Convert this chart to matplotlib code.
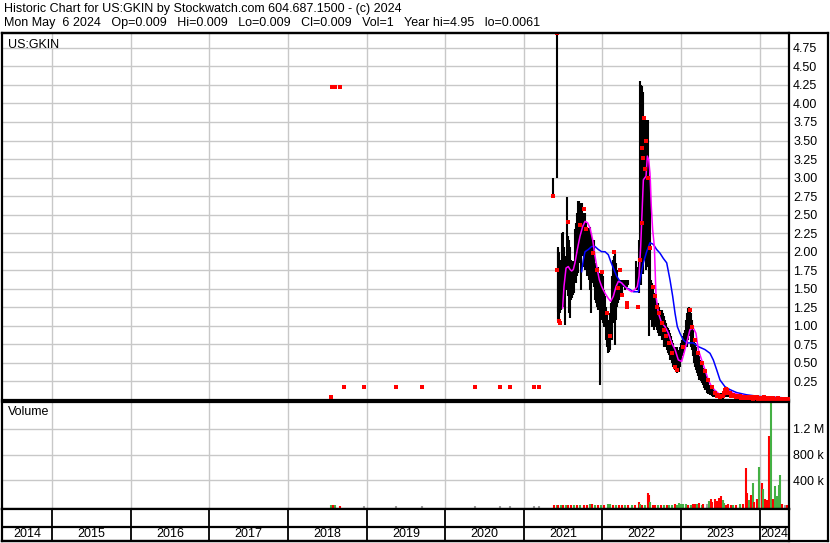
import matplotlib
matplotlib.use('Agg')
import matplotlib.pyplot as plt
from matplotlib.lines import Line2D

plt.rcParams['font.family'] = ['Liberation Sans', 'DejaVu Sans']

# ---- daily price bars (decimal year, high, low) ----
bar_t = [2021.375, 2021.424, 2021.430, 2021.438, 2021.451, 2021.464, 2021.476, 2021.489,
         2021.502, 2021.515, 2021.527, 2021.540, 2021.553, 2021.565, 2021.578, 2021.591,
         2021.604, 2021.616, 2021.629, 2021.642, 2021.655, 2021.667, 2021.680, 2021.693,
         2021.705, 2021.718, 2021.731, 2021.744, 2021.756, 2021.769, 2021.782, 2021.794,
         2021.807, 2021.820, 2021.833, 2021.845, 2021.858, 2021.871, 2021.884, 2021.896,
         2021.909, 2021.922, 2021.934, 2021.947, 2021.960, 2021.973, 2021.985, 2021.998,
         2022.011, 2022.024, 2022.036, 2022.049, 2022.062, 2022.074, 2022.087, 2022.100,
         2022.113, 2022.125, 2022.138, 2022.151, 2022.163, 2022.176, 2022.189, 2022.202,
         2022.214, 2022.227, 2022.240, 2022.253, 2022.265, 2022.291, 2022.308, 2022.329,
         2022.422, 2022.435, 2022.452, 2022.465, 2022.477, 2022.490, 2022.503, 2022.515,
         2022.528, 2022.541, 2022.554, 2022.566, 2022.579, 2022.592, 2022.604, 2022.617,
         2022.630, 2022.643, 2022.655, 2022.668, 2022.681, 2022.694, 2022.706, 2022.719,
         2022.732, 2022.744, 2022.757, 2022.770, 2022.783, 2022.795, 2022.808, 2022.821,
         2022.834, 2022.846, 2022.859, 2022.872, 2022.884, 2022.897, 2022.910, 2022.923,
         2022.935, 2022.948, 2022.961, 2022.973, 2022.986, 2022.999, 2023.012, 2023.024,
         2023.037, 2023.050, 2023.063, 2023.075, 2023.088, 2023.101, 2023.113, 2023.126,
         2023.139, 2023.151, 2023.164, 2023.177, 2023.189, 2023.202, 2023.215, 2023.228,
         2023.240, 2023.253, 2023.266, 2023.279, 2023.291, 2023.304, 2023.317, 2023.329,
         2023.346, 2023.368, 2023.389, 2023.410, 2023.431, 2023.452, 2023.478, 2023.503,
         2023.529, 2023.554, 2023.580, 2023.605, 2023.631, 2023.664, 2023.707, 2023.749,
         2023.813, 2023.876, 2023.940, 2024.004, 2024.089, 2024.173, 2024.258, 2024.343]
bar_hi = [3.00, 4.95, 2.07, 2.03, 2.00, 1.85, 1.89, 2.25,
          2.27, 2.07, 1.49, 1.94, 2.74, 2.21, 2.16, 2.07,
          1.89, 1.85, 1.87, 1.80, 2.30, 2.39, 2.52, 2.69,
          2.68, 2.66, 2.61, 2.66, 2.52, 2.43, 2.52, 2.39,
          2.34, 2.30, 2.32, 2.34, 2.25, 2.16, 2.07, 2.16,
          1.85, 1.80, 1.76, 1.80, 1.71, 1.71, 1.62, 1.76,
          1.67, 1.49, 1.40, 1.26, 1.17, 1.08, 0.99, 1.17,
          1.31, 1.67, 1.89, 1.94, 1.98, 1.85, 1.76, 1.62,
          1.58, 1.62, 1.62, 1.58, 1.62, 1.62, 1.62, 1.62,
          1.87, 1.80, 1.71, 2.16, 4.30, 4.25, 4.23, 4.16,
          3.78, 3.74, 3.78, 3.69, 3.78, 3.02, 2.97, 1.62,
          1.58, 1.53, 1.44, 1.40, 1.35, 1.26, 1.31, 1.26,
          1.22, 1.19, 1.22, 1.17, 1.13, 1.08, 1.04, 0.99,
          0.97, 0.95, 0.90, 0.86, 0.81, 0.77, 0.72, 0.72,
          0.68, 0.72, 0.68, 0.63, 0.72, 0.77, 0.81, 0.86,
          0.90, 0.95, 1.08, 1.17, 1.24, 1.26, 1.24, 1.17,
          1.08, 0.95, 0.81, 0.77, 0.72, 0.66, 0.61, 0.59,
          0.54, 0.52, 0.47, 0.43, 0.41, 0.36, 0.32, 0.30,
          0.25, 0.20, 0.18, 0.15, 0.13, 0.10, 0.09, 0.10,
          0.09, 0.13, 0.14, 0.13, 0.09, 0.08, 0.07, 0.07,
          0.065, 0.06, 0.056, 0.05, 0.047, 0.047, 0.043, 0.043]
bar_lo = [2.75, 3.00, 1.19, 1.06, 1.04, 1.17, 1.22, 1.31,
          1.26, 1.35, 1.01, 1.49, 1.49, 1.40, 1.17, 1.10,
          1.35, 1.37, 1.42, 1.44, 1.62, 1.58, 1.67, 1.71,
          1.89, 1.85, 1.49, 1.94, 1.98, 1.80, 1.76, 1.85,
          1.67, 1.71, 1.62, 1.49, 1.17, 1.58, 1.62, 1.53,
          1.35, 1.31, 1.26, 1.22, 1.31, 0.20, 1.08, 1.17,
          1.04, 0.99, 1.04, 0.81, 0.72, 0.63, 0.65, 0.68,
          0.86, 0.81, 1.04, 1.17, 0.74, 1.08, 1.26, 1.31,
          1.35, 1.44, 1.49, 1.44, 1.53, 1.49, 1.53, 1.55,
          1.49, 1.53, 1.49, 1.44, 1.98, 1.55, 2.00, 1.70,
          2.20, 1.90, 1.75, 2.10, 1.80, 0.86, 1.30, 1.08,
          0.99, 1.04, 0.95, 0.99, 1.08, 0.95, 0.90, 0.86,
          0.90, 0.86, 0.81, 0.86, 0.72, 0.81, 0.72, 0.68,
          0.63, 0.61, 0.54, 0.59, 0.50, 0.45, 0.47, 0.41,
          0.38, 0.36, 0.41, 0.38, 0.45, 0.52, 0.59, 0.63,
          0.68, 0.72, 0.77, 0.72, 0.81, 0.86, 0.86, 0.72,
          0.68, 0.59, 0.50, 0.45, 0.41, 0.36, 0.32, 0.27,
          0.27, 0.25, 0.23, 0.20, 0.16, 0.14, 0.13, 0.09,
          0.08, 0.07, 0.056, 0.047, 0.038, 0.029, 0.025, 0.025,
          0.02, 0.038, 0.047, 0.038, 0.029, 0.025, 0.02, 0.02,
          0.016, 0.016, 0.011, 0.011, 0.011, 0.007, 0.007, 0.007]

# ---- red close marks ----
red_t = [2018.546, 2018.555, 2018.593, 2018.660, 2018.707, 2018.962, 2019.373, 2019.710,
         2020.378, 2020.696, 2020.823, 2021.125, 2021.189,
         2021.375, 2021.424, 2021.417, 2021.442, 2021.459, 2021.565, 2021.714, 2021.769,
         2021.790, 2021.884, 2021.926, 2021.990, 2022.053, 2022.096, 2022.146, 2022.202,
         2022.223, 2022.244, 2022.308, 2022.316, 2022.448, 2022.477, 2022.498, 2022.507,
         2022.520, 2022.532, 2022.545, 2022.554, 2022.583, 2022.604, 2022.638, 2022.668,
         2022.690, 2022.723, 2022.753, 2022.783, 2022.808, 2022.842, 2022.880, 2022.923,
         2022.944, 2023.020, 2023.113, 2023.134, 2023.177, 2023.219, 2023.262, 2023.304,
         2023.346, 2023.389, 2023.431, 2023.474, 2023.516, 2023.558, 2023.575, 2023.588,
         2023.622, 2023.664, 2023.690, 2023.720, 2023.750, 2023.780, 2023.810, 2023.840,
         2023.870, 2023.900, 2023.930, 2023.960, 2023.990, 2024.020, 2024.050, 2024.080,
         2024.110, 2024.140, 2024.170, 2024.200, 2024.230, 2024.260, 2024.290, 2024.320,
         2024.350,
         2023.460, 2023.490, 2023.530, 2023.545, 2023.565, 2023.600, 2023.640, 2023.675,
         2023.705, 2023.735, 2023.765, 2023.795, 2023.825, 2023.855, 2023.885, 2023.915,
         2023.945, 2023.975, 2024.005, 2024.035, 2024.065, 2024.095, 2024.125, 2024.155,
         2024.185, 2024.215, 2024.245, 2024.275, 2024.305, 2024.335, 2024.365]
red_p = [0.047, 4.22, 4.22, 4.22, 0.18, 0.18, 0.18, 0.18,
         0.18, 0.18, 0.18, 0.18, 0.18,
         2.75, 4.95, 1.75, 1.07, 1.04, 2.40, 2.36, 2.58,
         2.30, 1.98, 1.76, 1.72, 1.17, 0.86, 2.00, 1.51,
         1.76, 1.42, 1.31, 1.26, 1.26, 1.89, 2.39, 3.40,
         3.27, 3.80, 3.11, 3.49, 2.99, 2.05, 1.53, 1.40,
         1.26, 1.17, 1.04, 0.95, 0.86, 0.77, 0.63, 0.45,
         0.41, 0.72, 1.22, 0.99, 0.81, 0.63, 0.50, 0.39,
         0.27, 0.18, 0.09, 0.07, 0.056, 0.13, 0.15, 0.13,
         0.09, 0.07, 0.06, 0.05, 0.05, 0.045, 0.04, 0.045,
         0.04, 0.035, 0.04, 0.035, 0.03, 0.03, 0.035, 0.03,
         0.025, 0.03, 0.025, 0.02, 0.025, 0.02, 0.02, 0.015,
         0.015,
         0.05, 0.04, 0.05, 0.09, 0.11, 0.10, 0.06, 0.05,
         0.04, 0.035, 0.03, 0.03, 0.025, 0.03, 0.025, 0.02,
         0.025, 0.02, 0.02, 0.015, 0.02, 0.015, 0.02, 0.015,
         0.01, 0.015, 0.01, 0.01, 0.012, 0.01, 0.009]

# ---- moving averages ----
ma_fast_t = [2021.493, 2021.510, 2021.536, 2021.565, 2021.587, 2021.608, 2021.629, 2021.650,
             2021.680, 2021.714, 2021.748, 2021.778, 2021.811, 2021.841, 2021.875, 2021.905,
             2021.934, 2021.960, 2021.990, 2022.032, 2022.074, 2022.104, 2022.138, 2022.172,
             2022.202, 2022.244, 2022.286, 2022.329, 2022.371, 2022.414, 2022.443, 2022.465,
             2022.486, 2022.503, 2022.520, 2022.554, 2022.571, 2022.588, 2022.604, 2022.621,
             2022.638, 2022.660, 2022.681, 2022.711, 2022.753, 2022.795, 2022.838, 2022.880,
             2022.923, 2022.965, 2023.007, 2023.037, 2023.071, 2023.113, 2023.156, 2023.189,
             2023.219, 2023.262, 2023.304, 2023.346, 2023.389, 2023.431, 2023.495, 2023.558,
             2023.601, 2023.664, 2023.749, 2023.876, 2024.004, 2024.173, 2024.370]
ma_fast = [1.24, 1.53, 1.78, 1.80, 1.76, 1.74, 1.76, 1.85,
           2.03, 2.21, 2.34, 2.41, 2.39, 2.32, 2.16, 1.94,
           1.76, 1.62, 1.53, 1.44, 1.37, 1.33, 1.40, 1.53,
           1.60, 1.58, 1.53, 1.49, 1.46, 1.49, 1.53, 1.67,
           2.07, 2.52, 2.97, 3.02, 3.29, 3.24, 3.06, 2.61,
           2.30, 2.07, 1.40, 1.17, 1.04, 0.99, 0.90, 0.77,
           0.68, 0.54, 0.52, 0.63, 0.77, 0.95, 0.97, 0.90,
           0.68, 0.54, 0.41, 0.27, 0.18, 0.13, 0.07, 0.07,
           0.13, 0.09, 0.07, 0.047, 0.038, 0.029, 0.025]

ma_slow_t = [2021.735, 2021.756, 2021.778, 2021.820, 2021.862, 2021.905, 2021.947, 2021.990,
             2022.032, 2022.074, 2022.104, 2022.138, 2022.180, 2022.223, 2022.265, 2022.308,
             2022.350, 2022.392, 2022.456, 2022.477, 2022.520, 2022.562, 2022.604, 2022.647,
             2022.689, 2022.732, 2022.774, 2022.817, 2022.859, 2022.893, 2022.923, 2022.952,
             2022.986, 2023.029, 2023.071, 2023.156, 2023.219, 2023.304, 2023.368, 2023.410,
             2023.452, 2023.495, 2023.558, 2023.622, 2023.707, 2023.834, 2024.004, 2024.173,
             2024.370]
ma_slow = [1.73, 1.89, 2.00, 2.03, 2.07, 2.07, 2.03, 2.00,
           2.00, 1.96, 1.87, 1.78, 1.67, 1.60, 1.55, 1.51,
           1.49, 1.46, 1.46, 1.62, 1.85, 2.00, 2.12, 2.10,
           2.03, 1.98, 1.91, 1.85, 1.62, 1.40, 1.17, 0.99,
           0.90, 0.81, 0.77, 0.77, 0.72, 0.68, 0.63, 0.54,
           0.41, 0.27, 0.18, 0.14, 0.10, 0.07, 0.047, 0.038,
           0.025]

# ---- volume (decimal year, shares, colour code: g up, r down, n unchanged) ----
vol_t = [2018.550, 2018.570, 2018.600, 2018.660, 2018.960, 2019.370, 2019.710, 2020.380,
         2020.700, 2020.820, 2021.130, 2021.190, 2021.380, 2021.420, 2021.440, 2021.470,
         2021.500, 2021.530, 2021.560, 2021.600, 2021.640, 2021.680, 2021.720, 2021.760,
         2021.800, 2021.840, 2021.862, 2021.900, 2021.940, 2021.980, 2022.020, 2022.074,
         2022.095, 2022.130, 2022.170, 2022.210, 2022.250, 2022.290, 2022.330, 2022.380,
         2022.420, 2022.464, 2022.477, 2022.500, 2022.540, 2022.583, 2022.596, 2022.608,
         2022.640, 2022.668, 2022.700, 2022.740, 2022.780, 2022.820, 2022.850, 2022.880,
         2022.920, 2022.950, 2022.973, 2022.994, 2023.028, 2023.062, 2023.092, 2023.130,
         2023.150, 2023.177, 2023.200, 2023.232, 2023.260, 2023.283, 2023.334, 2023.355,
         2023.376, 2023.397, 2023.431, 2023.452, 2023.482, 2023.508, 2023.529, 2023.546,
         2023.570, 2023.601, 2023.631, 2023.660, 2023.700, 2023.749, 2023.787, 2023.826,
         2023.843, 2023.864, 2023.885, 2023.910, 2023.927, 2023.961, 2023.995, 2024.025,
         2024.046, 2024.067, 2024.088, 2024.110, 2024.123, 2024.148, 2024.165, 2024.182,
         2024.195, 2024.216, 2024.224, 2024.241, 2024.258, 2024.290, 2024.320, 2024.350]
vol = [15000, 20000, 15000, 10000, 8000, 8000, 8000, 8000,
       8000, 8000, 8000, 8000, 15000, 20000, 25000, 15000,
       20000, 25000, 15000, 20000, 15000, 25000, 20000, 15000,
       20000, 30000, 35000, 20000, 15000, 20000, 25000, 40000,
       35000, 15000, 20000, 15000, 20000, 15000, 20000, 25000,
       20000, 75000, 35000, 20000, 25000, 200000, 170000, 75000,
       20000, 15000, 20000, 15000, 25000, 20000, 15000, 20000,
       30000, 25000, 45000, 40000, 35000, 30000, 20000, 25000,
       30000, 40000, 30000, 60000, 20000, 30000, 40000, 85000,
       110000, 70000, 110000, 80000, 130000, 160000, 100000, 45000,
       25000, 30000, 20000, 25000, 20000, 30000, 35000, 585000,
       200000, 100000, 175000, 360000, 75000, 110000, 610000, 365000,
       270000, 110000, 100000, 100000, 1090000, 1650000, 110000, 100000,
       320000, 120000, 160000, 330000, 480000, 30000, 25000, 20000]
vol_dir = ['g', 'r', 'g', 'r', 'n', 'n', 'n', 'n',
           'n', 'n', 'n', 'n', 'r', 'g', 'r', 'g',
           'r', 'g', 'r', 'r', 'g', 'r', 'g', 'r',
           'r', 'g', 'r', 'g', 'r', 'g', 'r', 'g',
           'g', 'r', 'g', 'r', 'r', 'g', 'r', 'g',
           'r', 'r', 'g', 'r', 'g', 'r', 'r', 'g',
           'r', 'r', 'g', 'r', 'g', 'r', 'g', 'g',
           'r', 'g', 'g', 'g', 'g', 'g', 'r', 'g',
           'r', 'r', 'g', 'r', 'g', 'r', 'n', 'g',
           'r', 'r', 'r', 'r', 'r', 'r', 'g', 'g',
           'r', 'r', 'r', 'g', 'r', 'g', 'r', 'r',
           'r', 'g', 'r', 'g', 'r', 'r', 'g', 'r',
           'g', 'r', 'r', 'r', 'r', 'g', 'r', 'r',
           'g', 'n', 'g', 'g', 'g', 'r', 'n', 'r']

years = list(range(2014, 2025))
price_ticks = [0.25, 0.50, 0.75, 1.00, 1.25, 1.50, 1.75, 2.00, 2.25, 2.50, 2.75,
               3.00, 3.25, 3.50, 3.75, 4.00, 4.25, 4.50, 4.75]
vol_ticks = [400000, 800000, 1200000]
vol_tick_labels = ['400 k', '800 k', '1.2 M']

title1 = 'Historic Chart for US:GKIN by Stockwatch.com 604.687.1500 - (c) 2024'
title2 = ('Mon May  6 2024   Op=0.009   Hi=0.009   Lo=0.009   Cl=0.009   Vol=1   '
          'Year hi=4.95   lo=0.0061')

W, H = 830, 543
xlim = (2014.36, 2024.373)
grid_c = '#c8c8c8'
colors = {'g': '#44b044', 'r': '#ff0000', 'n': '#a0a0a0'}

fig = plt.figure(figsize=(W / 100, H / 100), dpi=100)


def box(top, bottom):
    return [2 / W, 1 - bottom / H, 787 / W, (bottom - top) / H]


ax = fig.add_axes(box(33, 400))
axv = fig.add_axes(box(402, 509))
axd = fig.add_axes(box(509, 541))

for a in (ax, axv, axd):
    a.set_xlim(*xlim)
    a.set_xticks([])
    for s in a.spines.values():
        s.set_linewidth(1.6)

# price panel
ax.set_ylim(0, 4.95)
ax.yaxis.tick_right()
ax.set_yticks(price_ticks)
ax.set_yticklabels(['%.2f' % v for v in price_ticks])
ax.tick_params(axis='y', length=0, pad=3, labelsize=9)
for v in price_ticks:
    ax.axhline(v, color=grid_c, lw=1.0, zorder=0)
for y in years[1:]:
    ax.axvline(y, color=grid_c, lw=1.0, zorder=0)
ax.vlines(bar_t, bar_lo, bar_hi, color='black', lw=1.5, zorder=2)
ax.plot(ma_slow_t, ma_slow, color='#0000ff', lw=1.1, zorder=3)
ax.plot(ma_fast_t, ma_fast, color='#ff00ff', lw=1.1, zorder=3)
ax.plot(red_t, red_p, ls='none', marker='s', ms=2.2, mew=0, color='#ff0000', zorder=4)
ax.text(0.008, 0.985, 'US:GKIN', transform=ax.transAxes, ha='left', va='top', fontsize=9)

# volume panel
vol_floor = -40000
axv.set_ylim(vol_floor, 1610000)
axv.yaxis.tick_right()
axv.set_yticks(vol_ticks)
axv.set_yticklabels(vol_tick_labels)
axv.tick_params(axis='y', length=0, pad=3, labelsize=9)
for v in vol_ticks:
    axv.axhline(v, color=grid_c, lw=1.0, zorder=0)
for y in years[1:]:
    axv.axvline(y, color=grid_c, lw=1.0, zorder=0)
axv.vlines(vol_t, vol_floor, vol, colors=[colors[d] for d in vol_dir], lw=1.5, zorder=2)
axv.text(0.008, 0.96, 'Volume', transform=axv.transAxes, ha='left', va='top', fontsize=9)

# date axis
axd.set_ylim(0, 1)
axd.set_yticks([])
axd.axhline(14 / 32, color='black', lw=1.6)
for y in years[1:]:
    axd.axvline(y, color='black', lw=1.3)
for y in years:
    lo, hi = max(y, xlim[0]), min(y + 1, xlim[1])
    axd.text((lo + hi) / 2, 7 / 32, str(y), ha='center', va='center', fontsize=9)

# outer frame of the right-hand label column
fig.add_artist(Line2D([2 / W, 828 / W], [1 - 33 / H, 1 - 33 / H], color='black', lw=1.6))
fig.add_artist(Line2D([2 / W, 828 / W], [1 - 541 / H, 1 - 541 / H], color='black', lw=1.6))
fig.add_artist(Line2D([828 / W, 828 / W], [1 - 541 / H, 1 - 33 / H], color='black', lw=1.6))

fig.text(4 / W, 1 - 9 / H, title1, ha='left', va='center', fontsize=9)
fig.text(4 / W, 1 - 23 / H, title2, ha='left', va='center', fontsize=9)

fig.savefig('out.png', dpi=100)
